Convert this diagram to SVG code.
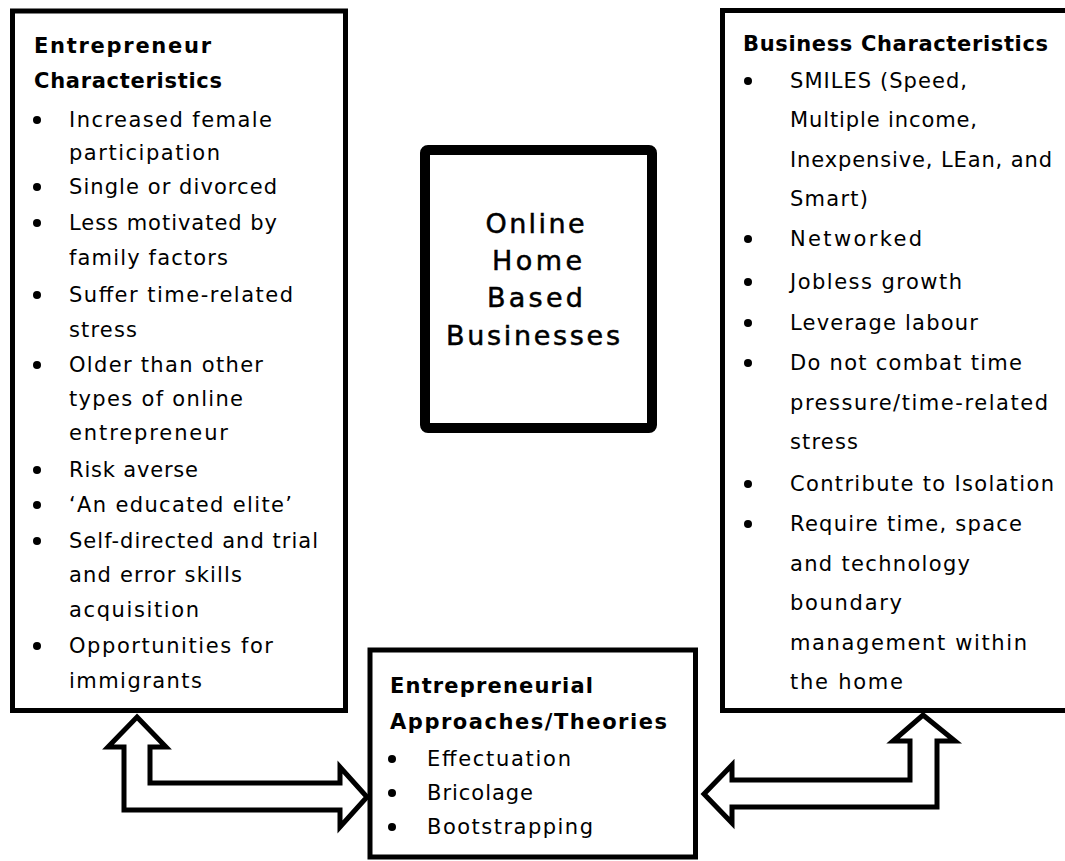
<svg xmlns="http://www.w3.org/2000/svg" width="1065" height="861" viewBox="0 0 1065 861">
<style>
.box{fill:#fff;stroke:#000;stroke-width:5}
.hd{font-family:"DejaVu Sans",sans-serif;font-weight:bold;font-size:21px;fill:#000}
.tx{font-family:"DejaVu Sans",sans-serif;font-size:21px;fill:#000}
.ct{font-family:"DejaVu Sans",sans-serif;font-size:27px;fill:#000;stroke:#000;stroke-width:0.5;text-anchor:middle}
.arr{fill:#fff;stroke:#000;stroke-width:5;stroke-linejoin:miter}
.bl{fill:#000}
</style>
<rect width="1065" height="861" fill="#fff"/>
<g id="connectors">
<polygon class="arr" points="137,717 166,747 150,747 150,783 340,783 340,767 367,797 340,827 340,810 124,810 124,747 108,747"/>
<polygon class="arr" points="923,715 955,741 937,741 937,807 732,807 732,823 704,794 732,765 732,780 910,780 910,741 893,741"/>
</g>
<g id="entrepreneur-characteristics">
<rect class="box" x="12.5" y="11" width="333" height="699.5"/>
<text class="hd" x="34" y="53" textLength="177" lengthAdjust="spacing">Entrepreneur</text>
<text class="hd" x="34" y="88" textLength="188" lengthAdjust="spacing">Characteristics</text>
<g class="bl">
<circle cx="37" cy="120" r="4"/><circle cx="37" cy="187" r="4"/><circle cx="37" cy="223" r="4"/><circle cx="37" cy="295" r="4"/><circle cx="37" cy="365" r="4"/><circle cx="37" cy="470" r="4"/><circle cx="37" cy="505" r="4"/><circle cx="37" cy="541" r="4"/><circle cx="37" cy="646" r="4"/>
</g>
<text class="tx" x="69" y="127" textLength="203" lengthAdjust="spacing">Increased female</text>
<text class="tx" x="69" y="160" textLength="151" lengthAdjust="spacing">participation</text>
<text class="tx" x="69" y="194" textLength="208" lengthAdjust="spacing">Single or divorced</text>
<text class="tx" x="69" y="230" textLength="208" lengthAdjust="spacing">Less motivated by</text>
<text class="tx" x="69" y="265" textLength="159" lengthAdjust="spacing">family factors</text>
<text class="tx" x="69" y="302" textLength="224" lengthAdjust="spacing">Suffer time-related</text>
<text class="tx" x="69" y="337" textLength="68" lengthAdjust="spacing">stress</text>
<text class="tx" x="69" y="372" textLength="194" lengthAdjust="spacing">Older than other</text>
<text class="tx" x="69" y="406" textLength="174" lengthAdjust="spacing">types of online</text>
<text class="tx" x="69" y="440" textLength="159" lengthAdjust="spacing">entrepreneur</text>
<text class="tx" x="69" y="477" textLength="129" lengthAdjust="spacing">Risk averse</text>
<text class="tx" x="69" y="512" textLength="223" lengthAdjust="spacing">‘An educated elite’</text>
<text class="tx" x="69" y="548" textLength="249" lengthAdjust="spacing">Self-directed and trial</text>
<text class="tx" x="69" y="582" textLength="173" lengthAdjust="spacing">and error skills</text>
<text class="tx" x="69" y="617" textLength="130" lengthAdjust="spacing">acquisition</text>
<text class="tx" x="69" y="653" textLength="204" lengthAdjust="spacing">Opportunities for</text>
<text class="tx" x="69" y="688" textLength="133" lengthAdjust="spacing">immigrants</text>
</g>
<g id="online-home-based-businesses">
<rect x="425" y="150" width="227" height="278" rx="3" fill="#fff" stroke="#000" stroke-width="10"/>
<text class="ct" x="535" y="233" textLength="99" lengthAdjust="spacing">Online</text>
<text class="ct" x="537" y="270" textLength="90" lengthAdjust="spacing">Home</text>
<text class="ct" x="535" y="307" textLength="96" lengthAdjust="spacing">Based</text>
<text class="ct" x="533" y="345" textLength="174" lengthAdjust="spacing">Businesses</text>
</g>
<g id="business-characteristics">
<rect class="box" x="722.5" y="10.5" width="360" height="700"/>
<text class="hd" x="743" y="51" textLength="305" lengthAdjust="spacing">Business Characteristics</text>
<g class="bl">
<circle cx="748" cy="81" r="4"/><circle cx="748" cy="239" r="4"/><circle cx="748" cy="282" r="4"/><circle cx="748" cy="323" r="4"/><circle cx="748" cy="363" r="4"/><circle cx="748" cy="484" r="4"/><circle cx="748" cy="524" r="4"/>
</g>
<text class="tx" x="790" y="88" textLength="177" lengthAdjust="spacing">SMILES (Speed,</text>
<text class="tx" x="790" y="127" textLength="187" lengthAdjust="spacing">Multiple income,</text>
<text class="tx" x="790" y="167" textLength="262" lengthAdjust="spacing">Inexpensive, LEan, and</text>
<text class="tx" x="790" y="206" textLength="78" lengthAdjust="spacing">Smart)</text>
<text class="tx" x="790" y="246" textLength="132" lengthAdjust="spacing">Networked</text>
<text class="tx" x="790" y="289" textLength="172" lengthAdjust="spacing">Jobless growth</text>
<text class="tx" x="790" y="330" textLength="188" lengthAdjust="spacing">Leverage labour</text>
<text class="tx" x="790" y="370" textLength="232" lengthAdjust="spacing">Do not combat time</text>
<text class="tx" x="790" y="410" textLength="258" lengthAdjust="spacing">pressure/time-related</text>
<text class="tx" x="790" y="449" textLength="68" lengthAdjust="spacing">stress</text>
<text class="tx" x="790" y="491" textLength="264" lengthAdjust="spacing">Contribute to Isolation</text>
<text class="tx" x="790" y="531" textLength="232" lengthAdjust="spacing">Require time, space</text>
<text class="tx" x="790" y="571" textLength="180" lengthAdjust="spacing">and technology</text>
<text class="tx" x="790" y="610" textLength="112" lengthAdjust="spacing">boundary</text>
<text class="tx" x="790" y="650" textLength="237" lengthAdjust="spacing">management within</text>
<text class="tx" x="790" y="689" textLength="113" lengthAdjust="spacing">the home</text>
</g>
<g id="entrepreneurial-approaches">
<rect class="box" x="370" y="650" width="325.5" height="207"/>
<text class="hd" x="390" y="693" textLength="203" lengthAdjust="spacing">Entrepreneurial</text>
<text class="hd" x="390" y="729" textLength="277" lengthAdjust="spacing">Approaches/Theories</text>
<g class="bl">
<circle cx="392" cy="759" r="4"/><circle cx="392" cy="793" r="4"/><circle cx="392" cy="827" r="4"/>
</g>
<text class="tx" x="427" y="766" textLength="144" lengthAdjust="spacing">Effectuation</text>
<text class="tx" x="427" y="800" textLength="106" lengthAdjust="spacing">Bricolage</text>
<text class="tx" x="427" y="834" textLength="166" lengthAdjust="spacing">Bootstrapping</text>
</g>
</svg>
